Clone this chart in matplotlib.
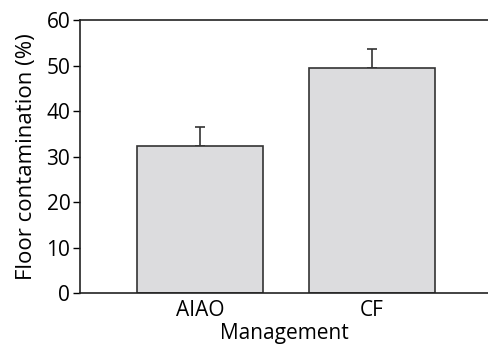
import numpy as np
import matplotlib.pyplot as plt

# Daten
management = ["AIAO", "CF"]
contamination = [32.3, 49.5]
se = [4.1, 4.2]

plt.rcParams['font.family'] = ['Open Sans', 'DejaVu Sans']

fig = plt.figure(figsize=(4.89, 3.54), dpi=100)
ax = fig.add_axes([80/489, 1-293.3/354, 1-80/489, (293.3-20)/354])

x = np.arange(len(management))
ax.bar(x, contamination, width=0.733, color='#dcdcde', edgecolor='#333333', linewidth=1.2, zorder=2)
ax.errorbar(x, contamination, yerr=[[0, 0], se], fmt='none', ecolor='#333333',
            elinewidth=1.2, capsize=3.5, capthick=1.2, zorder=1)

ax.set_xlim(-0.696, 1.68)
ax.set_ylim(0, 60)
ax.set_yticks([0, 10, 20, 30, 40, 50, 60])
ax.set_xticks(x)
ax.set_xticklabels(management)
ax.tick_params(axis='x', length=0, labelsize=15, pad=5)
ax.tick_params(axis='y', length=5, width=1, labelsize=15, pad=2)
ax.spines['right'].set_visible(False)
for s in ['left', 'bottom', 'top']:
    ax.spines[s].set_linewidth(1.2)
    ax.spines[s].set_color('#222222')

ax.set_xlabel("Management", fontsize=15, labelpad=1)
ax.set_ylabel("Floor contamination (%)", fontsize=16, labelpad=7)

fig.savefig("out.png", dpi=100)
